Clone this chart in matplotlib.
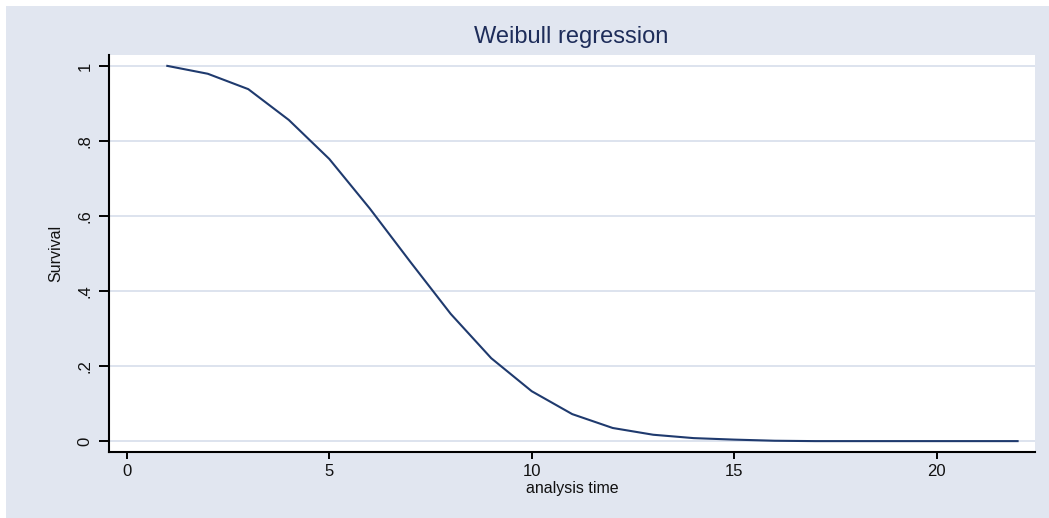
import matplotlib
matplotlib.use("Agg")
import matplotlib.pyplot as plt
from matplotlib.patches import Rectangle

# Data
time = [1, 2, 3, 4, 5, 6, 7, 8, 9, 10, 11, 12, 13, 14, 15, 16, 17, 18, 19, 20, 21, 22]
survival = [1.0, 0.979, 0.938, 0.856, 0.752, 0.620, 0.478, 0.339, 0.221, 0.133,
            0.072, 0.035, 0.017, 0.008, 0.004, 0.001, 0.0, 0.0, 0.0, 0.0, 0.0, 0.0]
xticks = [0, 5, 10, 15, 20]
xticklabels = ["0", "5", "10", "15", "20"]
yticks = [0, 0.2, 0.4, 0.6, 0.8, 1.0]
yticklabels = ["0", ".2", ".4", ".6", ".8", "1"]

plt.rcParams['font.family'] = ['Liberation Sans', 'DejaVu Sans']

W, H = 1049, 518
fig = plt.figure(figsize=(W / 100, H / 100), dpi=100, facecolor="white")
bg = "#E1E6F0"
fig.add_artist(Rectangle((6 / W, 0), 1, (H - 6) / H, transform=fig.transFigure,
                         facecolor=bg, edgecolor="none", zorder=-10))

ax = fig.add_axes([109 / W, (H - 452) / H, (1035 - 109) / W, (452 - 55) / H])
ax.set_zorder(1)
ax.set_facecolor("white")
ax.plot(time, survival, color="#1F3A6E", lw=1.5, zorder=3)

ax.set_xlim(-0.44, 22.43)
ax.set_ylim(-0.029, 1.029)
ax.set_xticks(xticks)
ax.set_xticklabels(xticklabels)
ax.set_yticks(yticks)
ax.set_yticklabels(yticklabels, rotation=90, va="center")
ax.grid(axis="y", color="#DDE3EE", lw=1.4, zorder=1)
ax.set_axisbelow(True)

for s in ["top", "right"]:
    ax.spines[s].set_visible(False)
for s in ["left", "bottom"]:
    ax.spines[s].set_color("black")
    ax.spines[s].set_linewidth(1.5)

ax.tick_params(axis="x", length=5, width=1.4, labelsize=12, pad=4, colors="black",
               labelcolor="#111111")
ax.tick_params(axis="y", length=7, width=1.4, labelsize=12, pad=5, colors="black",
               labelcolor="#111111")

ax.set_xlabel("analysis time", fontsize=11.5, color="#111111", labelpad=1)
ax.set_ylabel("Survival", fontsize=11.5, color="#111111", labelpad=10)

fig.text(0.5445, 1 - 37 / H, "Weibull regression", ha="center", va="center",
         fontsize=17, color="#1E2D5A")

fig.savefig("out.png", dpi=100, facecolor="white")
